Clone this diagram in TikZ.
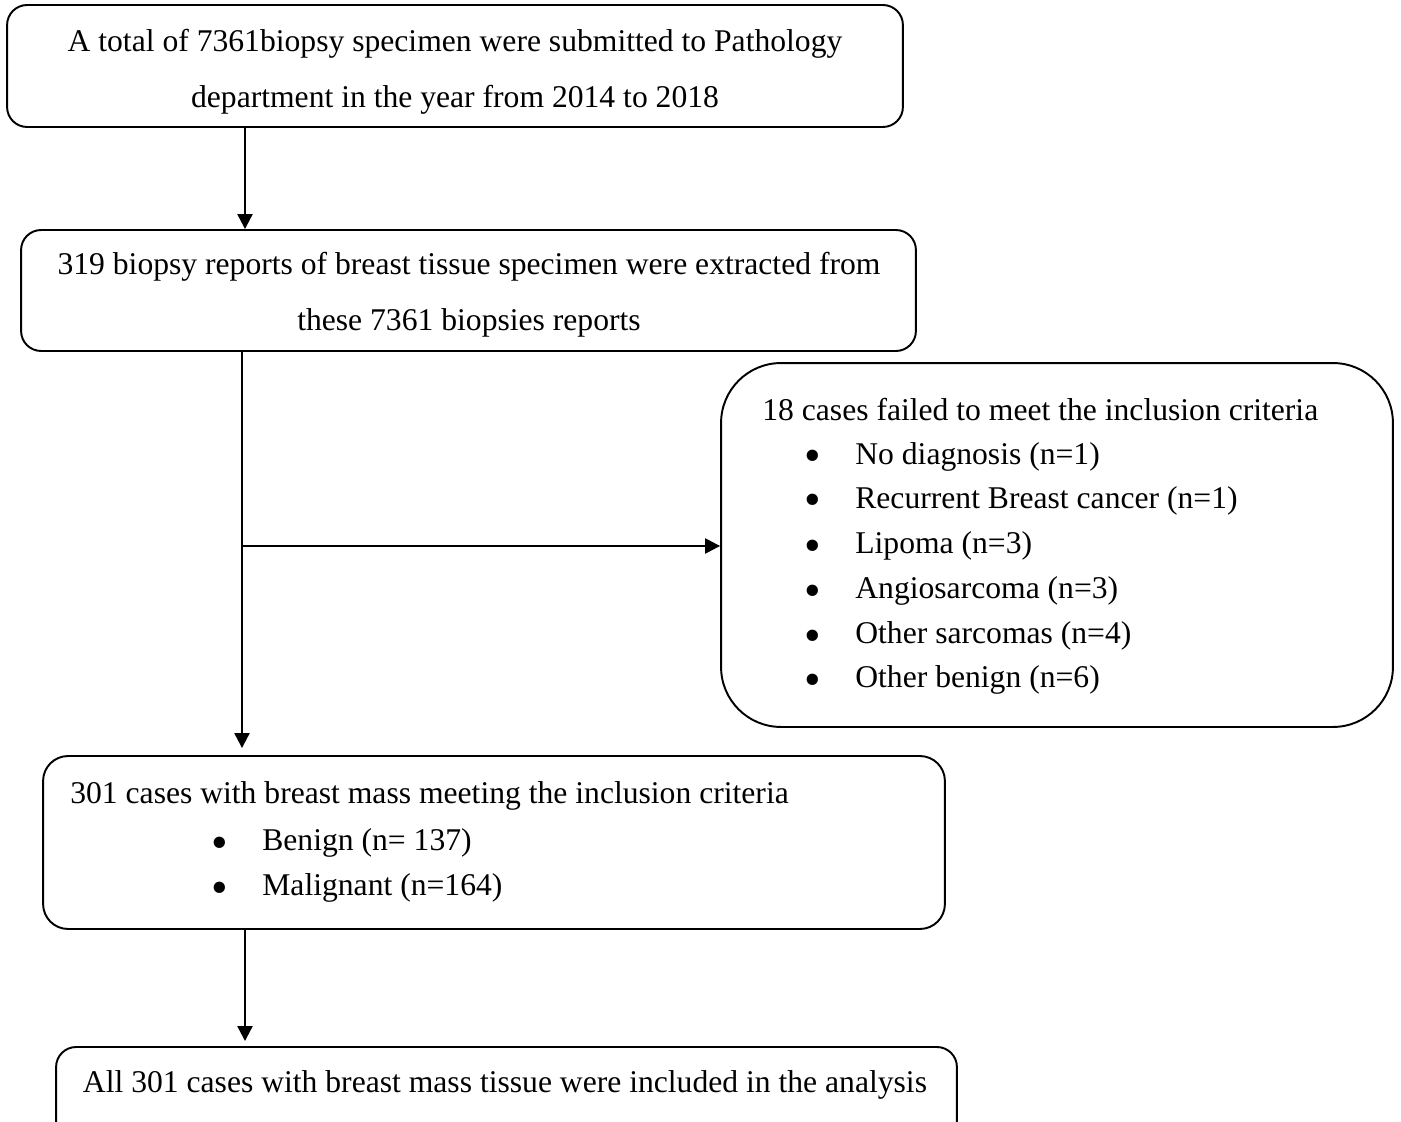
\documentclass[tikz,border=0pt]{standalone}
\usepackage{fontspec}
\setmainfont{Liberation Serif}
\usepackage{tikz}
\usetikzlibrary{arrows.meta}
\usetikzlibrary{positioning}

\begin{document}
\begin{tikzpicture}[x = 0.02cm, y = -0.02cm,
		box/.style = {draw, line width=1.1pt, rounded corners=0.4cm, inner sep=0pt},
		txt/.style = {anchor=base, inner sep=0pt, font=\fontsize{18pt}{22pt}\selectfont},
		dot/.style = {txt, font=\fontsize{27pt}{30pt}\selectfont, yshift=-0.16cm},
		arr/.style = {line width=1.3pt, -{Triangle[length=0.3cm, width=0.3cm]}}]
			 	% Frame
			 	\clip (0, 0) rectangle (1401, 1122);
			 	
			 	% Boxes
			 	\node[box, minimum width=17.92cm, minimum height=2.44cm] (total) at (455, 66) {};
			 	\node[box, minimum width=17.9cm, minimum height=2.42cm] (reports) at (468.5, 290.5) {};
			 	\node[box, rounded corners=1.2cm, minimum width=13.44cm, minimum height=7.28cm] (excluded) at (1057, 545) {};
			 	\node[box, rounded corners=0.5cm, minimum width=18.04cm, minimum height=3.46cm] (included) at (494, 842.5) {};
			 	\node[box, minimum width=18.02cm, minimum height=2cm] (analysis) at (506.5, 1097) {};
			 	
			 	% Texts
			 	\node[txt] (total1) at (455, 52) {A total of 7361biopsy specimen were submitted to Pathology};
			 	\node[txt] (total2) at (455, 108) {department in the year from 2014 to 2018};
			 	\node[txt] (reports1) at (469, 275) {319 biopsy reports of breast tissue specimen were extracted from};
			 	\node[txt] (reports2) at (469, 330) {these 7361 biopsies reports};
			 	
			 	\node[txt, anchor=base west] (ex0) at (762, 420) {18 cases failed to meet the inclusion criteria};
			 	\node[dot] (dot1) at (813, 464) {\textbullet};
			 	\node[txt, anchor=base west] (ex1) at (855, 464) {No diagnosis (n=1)};
			 	\node[dot] (dot2) at (813, 508) {\textbullet};
			 	\node[txt, anchor=base west] (ex2) at (855, 508) {Recurrent Breast cancer (n=1)};
			 	\node[dot] (dot3) at (813, 553) {\textbullet};
			 	\node[txt, anchor=base west] (ex3) at (855, 553) {Lipoma (n=3)};
			 	\node[dot] (dot4) at (813, 598) {\textbullet};
			 	\node[txt, anchor=base west] (ex4) at (855, 598) {Angiosarcoma (n=3)};
			 	\node[dot] (dot5) at (813, 643) {\textbullet};
			 	\node[txt, anchor=base west] (ex5) at (855, 643) {Other sarcomas (n=4)};
			 	\node[dot] (dot6) at (813, 687) {\textbullet};
			 	\node[txt, anchor=base west] (ex6) at (855, 687) {Other benign (n=6)};
			 	
			 	\node[txt, anchor=base west] (in0) at (70, 803) {301 cases with breast mass meeting the inclusion criteria};
			 	\node[dot] (dot7) at (220, 850) {\textbullet};
			 	\node[txt, anchor=base west] (in1) at (262, 850) {Benign (n= 137)};
			 	\node[dot] (dot8) at (220, 895) {\textbullet};
			 	\node[txt, anchor=base west] (in2) at (262, 895) {Malignant (n=164)};
			 	
			 	\node[txt] (final) at (505, 1092) {All 301 cases with breast mass tissue were included in the analysis};
			 	
			 	% Edges
			 	\coordinate (col1) at (245, 0);
			 	\coordinate (col2) at (242, 0);
			 	\coordinate (branch) at (242, 546);
			 	\draw[arr] (total.south -| col1) to (reports.north -| col1);
			 	\draw[arr, shorten >=0.14cm] (reports.south -| col2) to (included.north -| col2);
			 	\draw[arr] (branch) to (branch -| excluded.west);
			 	\draw[arr, shorten >=0.1cm] (included.south -| col1) to (analysis.north -| col1);
			\end{tikzpicture}
\end{document}
